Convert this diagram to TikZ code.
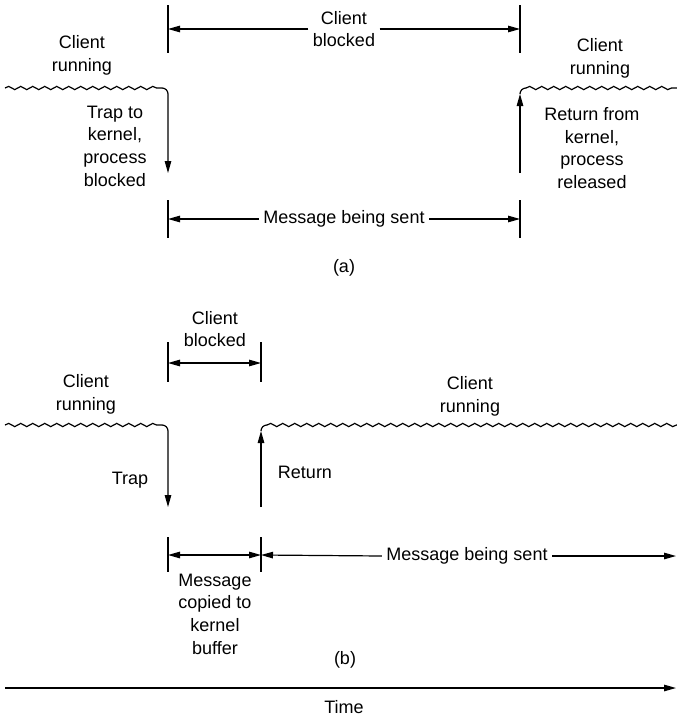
\documentclass[tikz,border=0pt]{standalone}
\usepackage{fontspec}
\setmainfont{Liberation Sans}
\usetikzlibrary{arrows.meta,decorations.pathmorphing}

\begin{document}
\begin{tikzpicture}[x=1pt,y=-1pt,line width=1.2pt,
  >={Triangle[length=12pt,width=6.5pt]},
  every node/.style={font=\fontsize{18}{22.7}\selectfont,align=center,inner sep=4pt},
  wave/.style={decorate,decoration={snake,segment length=12pt,amplitude=1.6pt}},
  tick/.style={line width=1.1pt}]
\useasboundingbox (0,0) rectangle (677,716);
% (a)
\draw [tick] (168,5) -- (168,53);
\draw [tick] (520,5) -- (520,53);
\coordinate (aBlkL) at (168,29);
\coordinate (aBlkR) at (520,29);
\node (aBlk) at (344,29) {Client\\blocked};
\draw [->] (aBlk.west) -- (aBlkL);
\draw [->] (aBlk.east) -- (aBlkR);
\node (aRunL) at (82,55) {Client\\running};
\node (aRunR) at (600,58) {Client\\running};
\coordinate (aW0) at (5,88);
\coordinate (aW1) at (162,88);
\coordinate (aTrapT) at (168,94);
\coordinate (aTrapB) at (168,173);
\draw [wave] (aW0) -- (aW1);
\draw [->] (aW1) to[out=0,in=90] (aTrapT) -- (aTrapB);
\node (aTrap) at (115,146) {Trap to\\kernel,\\process\\blocked};
\coordinate (aRetB) at (520,173);
\coordinate (aRetT) at (520,94);
\coordinate (aW2) at (526,88);
\coordinate (aW3) at (677,88);
\draw (aRetT) to[out=90,in=180] (aW2);
\draw [wave] (aW2) -- (aW3);
\draw [->] (aRetB) -- (aRetT);
\node (aRet) at (592,148) {Return from\\kernel,\\process\\released};
\draw [tick] (168,200) -- (168,238);
\draw [tick] (520,200) -- (520,238);
\coordinate (aMsgL) at (168,219);
\coordinate (aMsgR) at (520,219);
\node (aMsg) at (344,219) {Message being sent};
\draw [->] (aMsg.west) -- (aMsgL);
\draw [->] (aMsg.east) -- (aMsgR);
\node (aLab) at (344,268) {(a)};
% (b)
\draw [tick] (168,342) -- (168,382);
\draw [tick] (261,342) -- (261,382);
\coordinate (bBlkL) at (168,363);
\coordinate (bBlkR) at (261,363);
\node (bBlk) at (215,329) {Client\\blocked};
\draw [<->] (bBlkL) -- (bBlkR);
\node (bRunL) at (86,394) {Client\\running};
\node (bRunR) at (470,396) {Client\\running};
\coordinate (bW0) at (5,425);
\coordinate (bW1) at (162,425);
\coordinate (bTrapT) at (168,431);
\coordinate (bTrapB) at (168,507);
\draw [wave] (bW0) -- (bW1);
\draw [->] (bW1) to[out=0,in=90] (bTrapT) -- (bTrapB);
\node (bTrap) at (130,480) {Trap};
\coordinate (bRetB) at (261,507);
\coordinate (bRetT) at (261,431);
\coordinate (bW2) at (267,425);
\coordinate (bW3) at (677,425);
\draw (bRetT) to[out=90,in=180] (bW2);
\draw [wave] (bW2) -- (bW3);
\draw [->] (bRetB) -- (bRetT);
\node (bRet) at (305,472) {Return};
\draw [tick] (168,537) -- (168,572);
\draw [tick] (261,537) -- (261,572);
\coordinate (bCpyL) at (168,555);
\coordinate (bCpyR) at (261,555);
\coordinate (bMsgR) at (676,556);
\draw [<->] (bCpyL) -- (bCpyR);
\node (bCpy) at (215,614) {Message\\copied to\\kernel\\buffer};
\node (bMsg) at (467,556) {Message being sent};
\draw [->] (bMsg.west) -- (bCpyR);
\draw [->] (bMsg.east) -- (bMsgR);
\node (bLab) at (345,660) {(b)};
% time axis
\coordinate (t0) at (5,688);
\coordinate (t1) at (676,688);
\draw [->] (t0) -- (t1);
\node (time) at (344,707) {Time};
\end{tikzpicture}
\end{document}
